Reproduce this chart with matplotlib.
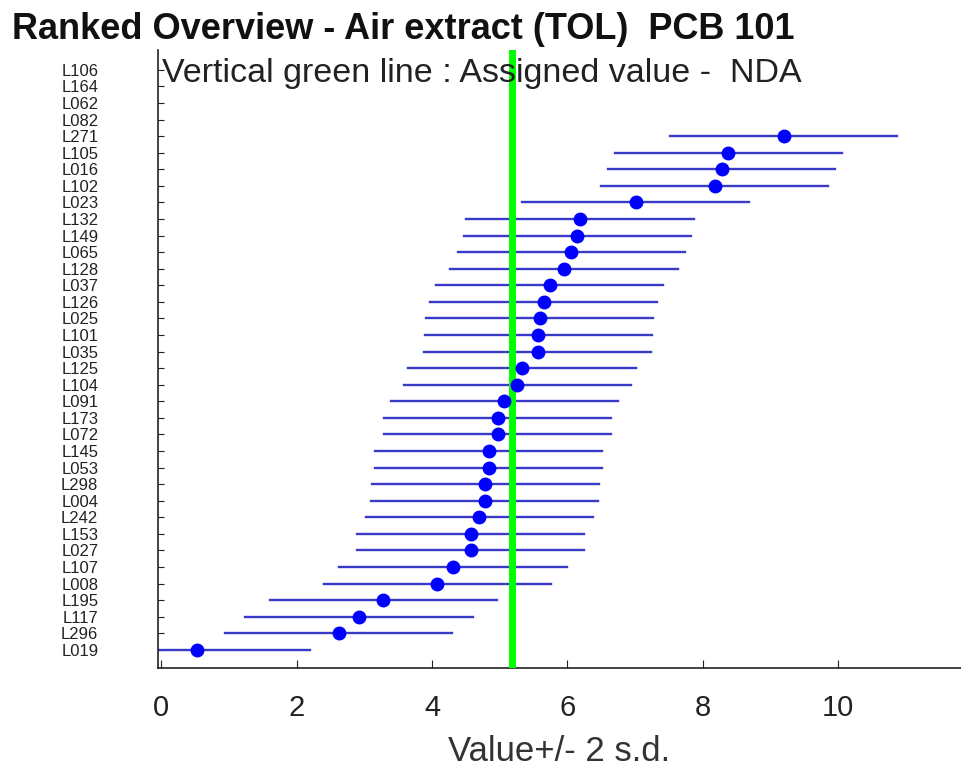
import matplotlib
matplotlib.use("Agg")
import matplotlib.pyplot as plt
import numpy as np

plt.rcParams['font.family'] = ['Liberation Sans', 'DejaVu Sans']

labels = ["L106", "L164", "L062", "L082", "L271", "L105", "L016", "L102", "L023",
          "L132", "L149", "L065", "L128", "L037", "L126", "L025", "L101", "L035",
          "L125", "L104", "L091", "L173", "L072", "L145", "L053", "L298", "L004",
          "L242", "L153", "L027", "L107", "L008", "L195", "L117", "L296", "L019"]
# values for labs with results (None = no result)
values = [None, None, None, None, 9.20, 8.38, 8.28, 8.18, 7.01,
          6.19, 6.15, 6.06, 5.95, 5.74, 5.65, 5.59, 5.57, 5.56,
          5.33, 5.26, 5.07, 4.97, 4.97, 4.84, 4.84, 4.79, 4.78,
          4.70, 4.57, 4.57, 4.31, 4.08, 3.28, 2.92, 2.62, 0.52]
two_sd = 1.68
assigned_value = 5.18
x_ticks = [0, 2, 4, 6, 8, 10]

fig = plt.figure(figsize=(9.61, 7.75), dpi=100)
ax = fig.add_axes([0.1644, 0.138, 0.8356, 0.7975])

ypos = np.arange(len(labels))
for y, v in zip(ypos, values):
    if v is None:
        continue
    ax.plot([v - two_sd, v + two_sd], [y, y], color='#3a3ac8', lw=1.7, zorder=2)
ys = [y for y, v in zip(ypos, values) if v is not None]
vs = [v for v in values if v is not None]
ax.plot(vs, ys, 'o', color='#0000ff', ms=9, zorder=4, clip_on=False)

ax.axvline(assigned_value, color='#00ff00', lw=5, zorder=3)

ax.set_xlim(-0.05, 11.82)
ax.set_ylim(36.1, -1.2)
ax.set_yticks(ypos)
ax.set_yticklabels(labels, fontsize=12, color='#333333')
ax.set_xticks(x_ticks)
ax.set_xticklabels([str(t) for t in x_ticks], fontsize=21, color='#333333')
ax.tick_params(axis='y', direction='in', length=4, pad=43, colors='#222222')
ax.tick_params(axis='x', direction='in', length=6, pad=19, colors='#222222')
ax.spines['top'].set_visible(False)
ax.spines['right'].set_visible(False)
for s in ('left', 'bottom'):
    ax.spines[s].set_color('#222222')
    ax.spines[s].set_linewidth(1.2)

ax.set_xlabel("Value+/- 2 s.d.", fontsize=25, color='#333333', labelpad=9)

fig.text(0.012, 0.962, "Ranked Overview - Air extract (TOL)  PCB 101",
         fontsize=26, fontweight='bold', ha='left', va='center', color='#111111')
ax.text(0.005, 0.948, "Vertical green line : Assigned value -  NDA", transform=ax.transAxes,
        fontsize=24.5, ha='left', va='baseline', color='#222222')

fig.savefig("out.png", dpi=100)
